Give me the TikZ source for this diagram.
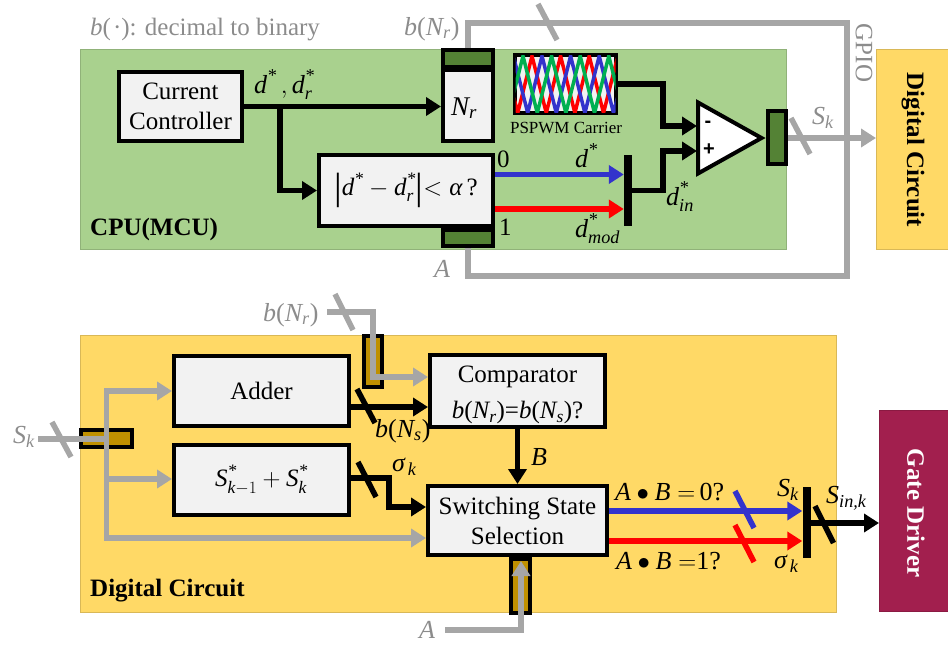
\documentclass[tikz,border=0pt]{standalone}
\usepackage{amsmath}
\usepackage{fontspec}
\setmainfont{Liberation Serif}
\setsansfont{Liberation Sans}
\usetikzlibrary{arrows.meta,positioning,calc}
\definecolor{cpugreen}{HTML}{A9D18E}
\definecolor{portgreen}{HTML}{548235}
\definecolor{fpgayellow}{HTML}{FFD966}
\definecolor{portgold}{HTML}{BF9000}
\definecolor{gatered}{HTML}{A21F4E}
\definecolor{boxgray}{HTML}{F2F2F2}
\definecolor{wiregray}{HTML}{A6A6A6}
\definecolor{textgray}{HTML}{8C8C8C}
\definecolor{wireblue}{HTML}{3333CC}
\definecolor{wirered}{HTML}{FF0000}
\definecolor{wavegreen}{HTML}{00B050}
\newcommand{\mi}[1]{\textit{#1}}
\newcommand{\st}{^{\mi{*}}}
\newcommand{\tallbar}{\raisebox{-4pt}{\fontsize{38}{38}\selectfont|}}
\tikzset{
  every node/.style={font=\fontsize{25}{30}\selectfont,inner sep=0pt},
  area/.style args={#1,#2}{
  fill=#1,
  draw=#1!85!black,
  line width=0.6pt,
  minimum width=#2
  },
  blockbox/.style args={#1,#2}{
  draw=black,
  fill=boxgray,
  line width=4pt,
  align=center,
  minimum width=#1pt,
  minimum height=#2pt
  },
  cpuport/.style={blockbox={#1},fill=portgreen},
  logicport/.style={blockbox={#1},fill=portgold},
  muxbar/.style={fill=black,minimum width=8pt,minimum height=71pt},
  wire/.style={line width=5.5pt,-{Triangle[length=15pt,width=18pt]}},
  plainwire/.style={line width=5.5pt},
  greywire/.style={wire,wiregray},
  greyline/.style={plainwire,wiregray},
  tick/.style={line width=5.5pt},
  greylabel/.style={text=textgray},
  lab/.style={anchor=base west,font=\fontsize{26}{30}\selectfont},
  wave/.style={line width=3.5pt}
}
\begin{document}
\begin{tikzpicture}[x=1pt,y=-1pt]
  \useasboundingbox (0,0) rectangle (948,645);

  % upper part
  \node [area={cpugreen,706pt},minimum height=200pt] (cpu) at (433,149) {};
  \node [area={fpgayellow,72pt},minimum height=200pt] (digital) at (912,149) {};
  \node [rotate=-90,font=\fontsize{25}{30}\selectfont\bfseries] (digitaltxt) at (913,150) {Digital Circuit};
  \node [anchor=west,font=\fontsize{25}{30}\selectfont\bfseries] (cputxt) at (90,229) {CPU(MCU)};
  \node [greylabel,anchor=base west] (binarytxt) at (90,35) {\mi{b}(\kern2pt·): decimal to binary};

  \node [blockbox={123,69}] (ctrl) at (180.5,106.5) {Current\\Controller};
  \node [blockbox={50,71}] (nr) at (468,105.5) {};
  \node [cpuport={50,17}] (nrport) at (468,58) {};
  \node [blockbox={174,71}] (cmp) at (406,190.5) {\tallbar$\mi{d}\st-\mi{d}_{\mi{r}}\st$\tallbar$<\mi{α}\,$?};
  \node [cpuport={50,16}] (aport) at (468,238) {};
  \node [blockbox={101,58}] (carrier) at (565.5,84) {};
  \node [font=\fontsize{17}{20}\selectfont] (carriertxt) at (566,128) {PSPWM Carrier};
  \node [muxbar] (dbar) at (628,190.5) {};
  \node [cpuport={18.5,53.5}] (skport) at (777,137.5) {};

  % carrier waves
  \begin{scope}
    \clip (515.5,55.5) rectangle (615.5,112.5);
    \foreach \wavecol/\wavestart in {wirered/503.4,wireblue/513.4,wavegreen/494.4}
      \draw [wave,\wavecol] (\wavestart,56) foreach \n in {1,...,5} {-- ++(14.3,57) -- ++(14.3,-57)};
  \end{scope}

  % comparator
  \coordinate (cmpm) at (697,126);
  \coordinate (cmpp) at (697,151);
  \draw [line width=4pt,fill=white,line join=miter] (698,102.5) -- (698,173.5) -- (761.5,138) -- cycle;
  \node [font=\fontsize{20}{24}\selectfont\sffamily\bfseries] (minus) at (708,124) {-};
  \node [font=\fontsize{20}{24}\selectfont\sffamily\bfseries] (plus) at (709,150) {+};

  % wires of the upper part
  \coordinate (branch) at (280,106.5);
  \coordinate (cmp0) at (495,174.5);
  \coordinate (cmp1) at (495,209);
  \coordinate (gpiotop) at (847,23);
  \coordinate (gpiobot) at (847,276);
  \coordinate (bend1) at (663,126);
  \coordinate (bend2) at (663,151);
  \coordinate (skend) at (876,138);
  \draw [wire] (ctrl.east) -- (ctrl.east -| nr.west);
  \draw [wire] (branch) |- (cmp.west);
  \draw [wire] (carrier.east) -| (bend1) -- (cmpm);
  \draw [wire] (dbar.east) -| (bend2) -- (cmpp);
  \draw [wire,wireblue] (cmp0) -- (cmp0 -| dbar.west);
  \draw [wire,wirered] (cmp1) -- (cmp1 -| dbar.west);
  \draw [greyline] (nrport.north) |- (gpiotop) -- (gpiobot) -| (aport.south);
  \draw [greywire] (skport.east |- skend) -- (skend);
  \draw [tick,wiregray] (538,4) -- (557,40);
  \draw [tick,wiregray] (791,118) -- (810,154);

  \node [lab,font=\fontsize{27}{30}\selectfont] (nrtxt) at (451,115) {$\mi{N}_{\mi{r}}$};
  \node [lab,greylabel] (bnrtop) at (404,35) {\mi{b}($\mi{N}_{\mi{r}}$)};
  \node [lab,greylabel] (atop) at (434,277) {\mi{A}};
  \node [greylabel,rotate=-90] (gpio) at (864,53) {GPIO};
  \node [lab,greylabel] (sktop) at (812,124) {$\mi{S}_{\mi{k}}$};
  \node [lab] (dtxt) at (254,93) {$\mi{d}\st\,{,}\,\mi{d}_{\mi{r}}\st$};
  \node [anchor=base west] (zero) at (497,167) {0};
  \node [anchor=base west] (one) at (499,235) {1};
  \node [lab] (dstar) at (575,167) {$\mi{d}\st$};
  \node [lab] (dmod) at (575,237) {$\mi{d}_{\mi{mod}}\st$};
  \node [lab] (din) at (666,205) {$\mi{d}_{\mi{in}}\st$};

  % lower part
  \node [area={fpgayellow,756pt},minimum height=277pt] (logic) at (458,473.5) {};
  \node [area={gatered,69pt},minimum height=201pt] (gate) at (913.5,511) {};
  \node [rotate=-90,text=white,font=\fontsize{25}{30}\selectfont\bfseries] (gatetxt) at (916,513) {Gate Driver};
  \node [anchor=west,font=\fontsize{25}{30}\selectfont\bfseries] (logictxt) at (90,591) {Digital Circuit};

  \node [blockbox={175,70}] (adder) at (261.5,391) {Adder};
  \node [blockbox={175,70}] (sumbox) at (261.5,480) {$\mi{S}_{\mi{k}-1}\st+\mi{S}_{\mi{k}}\st$};
  \node [blockbox={175,71.5}] (compare) at (517.5,391) {\rule{0pt}{24pt}Comparator\\[6pt]\mi{b}($\mi{N}_{\mi{r}}$)=\mi{b}($\mi{N}_{\mi{s}}$)?};
  \node [blockbox={179,69}] (select) at (517.5,520.5) {Switching State\\Selection};
  \node [logicport={18,51}] (bport) at (373,361.5) {};
  \node [logicport={51,17}] (skin) at (106.5,438.5) {};
  \node [logicport={19,54}] (aport2) at (520.5,586) {};
  \node [muxbar] (sbar) at (806.5,522.5) {};

  % wires of the lower part
  \coordinate (skstart) at (38,439);
  \coordinate (skjoin) at (106.5,439);
  \coordinate (sktopj) at (106.5,391);
  \coordinate (sksum) at (106.5,479);
  \coordinate (skbot) at (106.5,538);
  \coordinate (bnrstart) at (327,312);
  \coordinate (bnrbend) at (373,377);
  \coordinate (addout) at (351,407);
  \coordinate (sumbend) at (389,478);
  \coordinate (sumin) at (426,507);
  \coordinate (sel0) at (609,511);
  \coordinate (sel1) at (609,541);
  \coordinate (astart) at (445,630);
  \coordinate (atip) at (521,561);
  \coordinate (sout) at (879,523);
  \draw [greyline] (skstart) -- (skjoin);
  \draw [greywire] (sktopj) -- (sktopj -| adder.west);
  \draw [greywire] (sksum) -- (sksum -| sumbox.west);
  \draw [greywire] (skbot) -- (skbot -| select.west);
  \draw [greyline,line cap=rect] (sktopj) -- (skbot);
  \draw [greywire] (bnrstart) -| (bnrbend) -- (bnrbend -| compare.west);
  \draw [wire] (addout) -- (addout -| compare.west);
  \draw [wire] (sumbox.east |- sumbend) -- (sumbend) |- (sumin);
  \draw [wire] (compare.south) -- (compare.south |- select.north);
  \draw [wire,wireblue] (sel0) -- (sel0 -| sbar.west);
  \draw [wire,wirered] (sel1) -- (sel1 -| sbar.west);
  \draw [wire] (sbar.east |- sout) -- (sout);
  \draw [greywire] (astart) -| (atip);
  \draw [tick,wiregray] (52,422) -- (71,457);
  \draw [tick,wiregray] (335,294) -- (353,330);
  \draw [tick] (357,389) -- (375,423);
  \draw [tick] (358,462) -- (376,497);
  \draw [tick,wireblue] (735,491) -- (754,528);
  \draw [tick,wirered] (735,525) -- (754,562);
  \draw [tick] (815,506) -- (833.5,543);

  \node [lab,greylabel] (sklabel) at (13,443) {$\mi{S}_{\mi{k}}$};
  \node [lab,greylabel] (bnrlabel) at (263,321) {\mi{b}($\mi{N}_{\mi{r}}$)};
  \node [lab,greylabel] (alabel) at (419,638) {\mi{A}};
  \node [lab] (bnslabel) at (375,437) {\mi{b}($\mi{N}_{\mi{s}}$)};
  \node [lab] (sigma1) at (392,471) {$\mi{σ}_{\,\mi{k}}$};
  \node [lab] (blabel) at (531,465) {\mi{B}};
  \node [lab] (ab0) at (615,500) {$\mi{A}\bullet\mi{B}=$\,0?};
  \node [lab] (ab1) at (616,569) {$\mi{A}\bullet\mi{B}=$1?};
  \node [lab] (sk2) at (777,496) {$\mi{S}_{\mi{k}}$};
  \node [lab] (sigma2) at (774,568) {$\mi{σ}_{\,\mi{k}}$};
  \node [lab] (skout) at (826,503) {$\mi{S}_{\mi{in,k}}$};
\end{tikzpicture}
\end{document}
